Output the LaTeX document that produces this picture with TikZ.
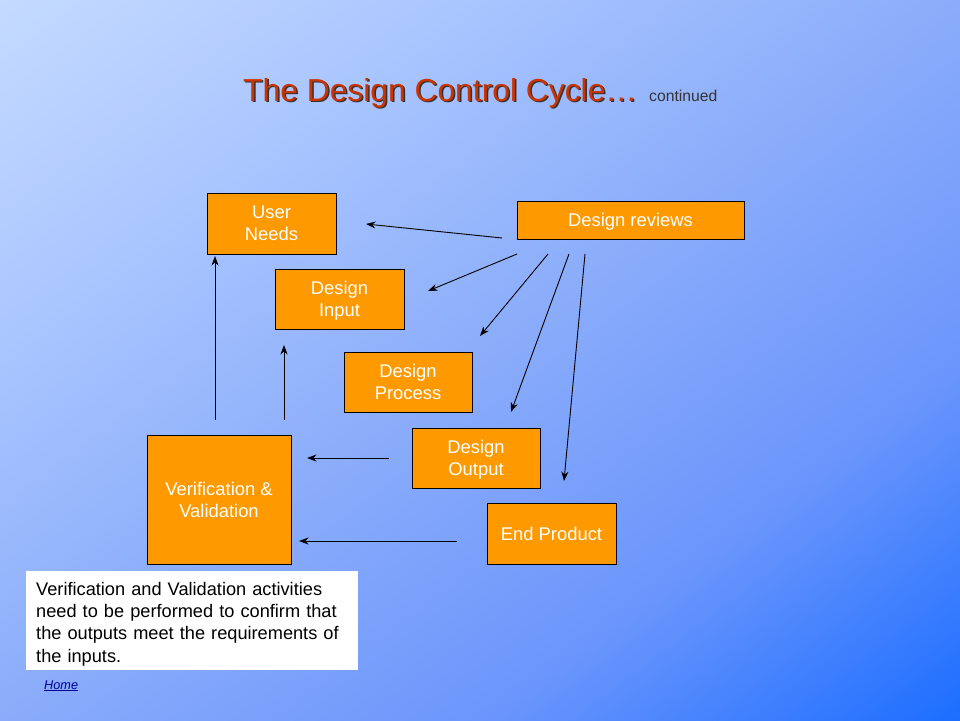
\documentclass[tikz,border=0pt]{standalone}
\usepackage{fontspec}
\setmainfont{Liberation Sans}
\usepackage{tikz}
\usetikzlibrary{arrows.meta}
\usepackage{xcolor}
\definecolor{bgtop}{HTML}{C4DAFF}
\definecolor{bgqa}{HTML}{A9C5FF}
\definecolor{bgmid}{HTML}{8AACFA}
\definecolor{bgqb}{HTML}{6C96FC}
\definecolor{bgbot}{HTML}{1C6EFF}
\definecolor{boxorange}{HTML}{FF9900}
\definecolor{titlered}{HTML}{CC3300}
\definecolor{homeblue}{HTML}{000099}
\pgfdeclareverticalshading{slideback}{100bp}{color(0bp)=(bgbot); color(25bp)=(bgbot);
    color(37.5bp)=(bgqb); color(50bp)=(bgmid); color(62.5bp)=(bgqa);
    color(75bp)=(bgtop); color(100bp)=(bgtop)}

\begin{document}
\begin{tikzpicture}[x=1pt, y=-1pt,
    stagebox/.style={draw=black, fill=boxorange, text=white, inner sep=0pt,
        align=center, minimum width=129pt, minimum height=61pt, text depth=0pt,
        font=\fontsize{18.4}{22}\selectfont},
    flow/.style={-{Stealth[length=9.5pt, width=7pt]}, line width=0.9pt}]
        % Background
        \useasboundingbox (0, 0) rectangle (960, 720);
        \begin{scope}
            \clip (0, 0) rectangle (960, 720);
            \shade [shading=slideback, shading angle=36.87] (-96, -216) rectangle (1056, 936);
        \end{scope}
        % Title
        \node [anchor=base west, text=black!80, font=\fontsize{31.8}{36}\selectfont, inner sep=0pt] (titleshadow) at (244.5, 102.5) {The Design Control Cycle\ldots};
        \node [anchor=base west, text=titlered, font=\fontsize{31.8}{36}\selectfont, inner sep=0pt] (title) at (243, 101) {The Design Control Cycle\ldots};
        \node [anchor=base west, text=black!80, font=\fontsize{15.7}{18}\selectfont, inner sep=0pt] (cont) at (649, 101) {continued};
        % Boxes
        \node [stagebox] (needs) at (271.5, 223.5) {User\\Needs};
        \node [stagebox, minimum width=227pt, minimum height=38pt] (reviews) at (630.5, 220) {Design reviews};
        \node [stagebox, minimum height=60pt] (input) at (339.5, 299) {Design\\Input};
        \node [stagebox, minimum width=128pt, minimum height=60pt] (process) at (408, 382) {Design\\Process};
        \node [stagebox, minimum width=128pt, minimum height=60pt] (output) at (476, 458) {Design\\Output};
        \node [stagebox] (product) at (551.5, 533.5) {End Product};
        \node [stagebox, minimum width=144pt, minimum height=129pt] (vv) at (219, 499.5) {Verification \&\\Validation};
        % Note
        \node [fill=white, anchor=north west, text width=312pt, inner xsep=10pt, inner ysep=0pt,
            minimum height=99pt, text height=19.5pt, align=left, font=\fontsize{18.2}{22.3}\selectfont] (note) at (26, 571)
            {Verification and Validation activities need to be performed to confirm that the outputs meet the requirements of the inputs.};
        \node [anchor=base west, inner sep=0pt, text=homeblue, font=\fontsize{12.7}{15}\selectfont\itshape] (home) at (44, 689) {\underline{Home}};
        % Arrow ends
        \coordinate (rv0) at (502, 238);
        \coordinate (nd0) at (366, 224);
        \coordinate (rv1) at (517, 254);
        \coordinate (in0) at (428, 291);
        \coordinate (rv2) at (548, 254);
        \coordinate (pr0) at (480, 336);
        \coordinate (rv3) at (569, 254);
        \coordinate (ou0) at (511, 412);
        \coordinate (rv4) at (585, 254);
        \coordinate (ep0) at (564, 481);
        \coordinate (ou1) at (389, 458);
        \coordinate (vv1) at (307, 458);
        \coordinate (ep1) at (457, 541);
        \coordinate (vv2) at (299, 541);
        \coordinate (vv3) at (215, 420);
        \coordinate (nd1) at (215, 256);
        \coordinate (vv4) at (284, 420);
        \coordinate (in1) at (284, 345);
        % Arrows
        \draw [flow] (rv0) -- (nd0);
        \draw [flow] (rv1) -- (in0);
        \draw [flow] (rv2) -- (pr0);
        \draw [flow] (rv3) -- (ou0);
        \draw [flow] (rv4) -- (ep0);
        \draw [flow] (ou1) -- (vv1);
        \draw [flow] (ep1) -- (vv2);
        \draw [flow] (vv3) -- (nd1);
        \draw [flow] (vv4) -- (in1);
    \end{tikzpicture}
\end{document}
